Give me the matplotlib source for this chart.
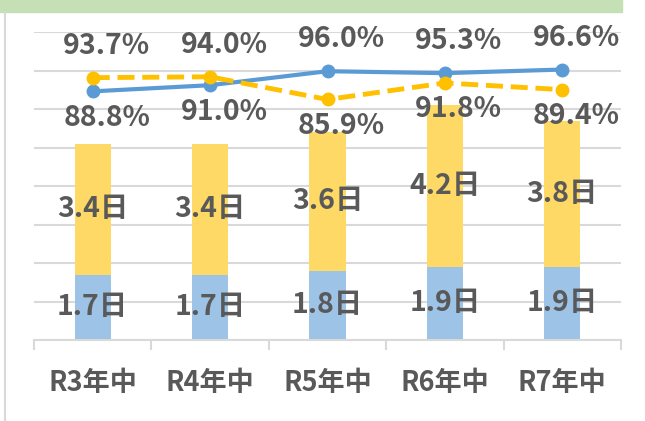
import matplotlib
matplotlib.use("Agg")
import matplotlib.pyplot as plt
from matplotlib.patches import Rectangle
from matplotlib.lines import Line2D
import numpy as np

# =========================
# Data
# =========================
categories = ["R3年中", "R4年中", "R5年中", "R6年中", "R7年中"]
days_base = [1.7, 1.7, 1.8, 1.9, 1.9]      # blue bar segment (日)
days_extra = [3.4, 3.4, 3.6, 4.2, 3.8]     # yellow bar segment (日)
rate_blue = [88.8, 91.0, 96.0, 95.3, 96.6]    # solid line (%)
rate_yellow = [93.7, 94.0, 85.9, 91.8, 89.4]  # dashed line (%)

# =========================
# Style
# =========================
plt.rcParams["font.family"] = ["Noto Sans CJK JP", "DejaVu Sans"]
TEXT = "#595959"
GRID = "#D9D9D9"
BAR_BLUE = "#9DC3E6"
BAR_YELLOW = "#FFD966"
LINE_BLUE = "#5B9BD5"
LINE_YELLOW = "#FFC000"

W, H = 645, 421
fig = plt.figure(figsize=(W / 100, H / 100), dpi=100)

# frame pieces of the cropped chart
fig.patches.append(Rectangle((0, 1 - 12 / H), 622 / W, 12 / H,
                             transform=fig.transFigure, color="#C5E0B4", zorder=0))
fig.lines.append(Line2D([5 / W, 5 / W], [0, 1 - 12 / H], transform=fig.transFigure,
                        color=GRID, lw=1.5))

ax = fig.add_axes([34 / W, 81 / H, 587 / W, 308 / H])
x = np.arange(len(categories))

ax.bar(x, days_base, width=0.31, color=BAR_BLUE, zorder=2)
ax.bar(x, days_extra, bottom=days_base, width=0.31, color=BAR_YELLOW, zorder=2)

ax.set_ylim(0, 8)
ax.set_yticks(np.arange(0, 9, 1))
ax.set_yticklabels([])
ax.tick_params(axis="y", length=0)
ax.grid(axis="y", color=GRID, lw=1.5, zorder=0)
ax.set_axisbelow(True)
ax.set_xlim(-0.5, len(categories) - 0.5)

for s in ["top", "right", "left"]:
    ax.spines[s].set_visible(False)
ax.spines["bottom"].set_color(GRID)
ax.spines["bottom"].set_linewidth(1.5)

ax.set_xticks(x)
ax.set_xticklabels(categories, fontsize=19.5, color=TEXT, fontweight="bold")
ax.tick_params(axis="x", which="major", length=0, pad=21)
ax.set_xticks(np.arange(-0.5, len(categories), 1), minor=True)
ax.tick_params(axis="x", which="minor", length=7, width=1.5, color=GRID)

for i in range(len(categories)):
    b = days_base[i]
    e = days_extra[i]
    ax.text(x[i], b / 2, f"{b:.1f}日", ha="center", va="center",
            fontsize=20.5, color=TEXT, fontweight="bold", zorder=5)
    ax.text(x[i], b + e / 2, f"{e:.1f}日", ha="center", va="center",
            fontsize=20.5, color=TEXT, fontweight="bold", zorder=5)

# secondary axis for the rates
ax2 = ax.twinx()
ax2.set_ylim(0, 110)
ax2.axis("off")
ax2.plot(x, rate_blue, color=LINE_BLUE, lw=3, marker="o", ms=9, zorder=3)
ax2.plot(x, rate_yellow, color=LINE_YELLOW, lw=3.5, marker="o", ms=9,
         dashes=(3.5, 1.6), zorder=3)

for i in range(len(categories)):
    pair = [rate_blue[i], rate_yellow[i]]
    hi, lo = max(pair), min(pair)
    ax2.annotate(f"{hi:.1f}%", (x[i], hi), xytext=(10, 23), textcoords="offset points",
                 ha="center", va="center", fontsize=20.5, color=TEXT, fontweight="bold")
    ax2.annotate(f"{lo:.1f}%", (x[i], lo), xytext=(10, -19), textcoords="offset points",
                 ha="center", va="center", fontsize=20.5, color=TEXT, fontweight="bold")

fig.savefig("out.png", dpi=100)
